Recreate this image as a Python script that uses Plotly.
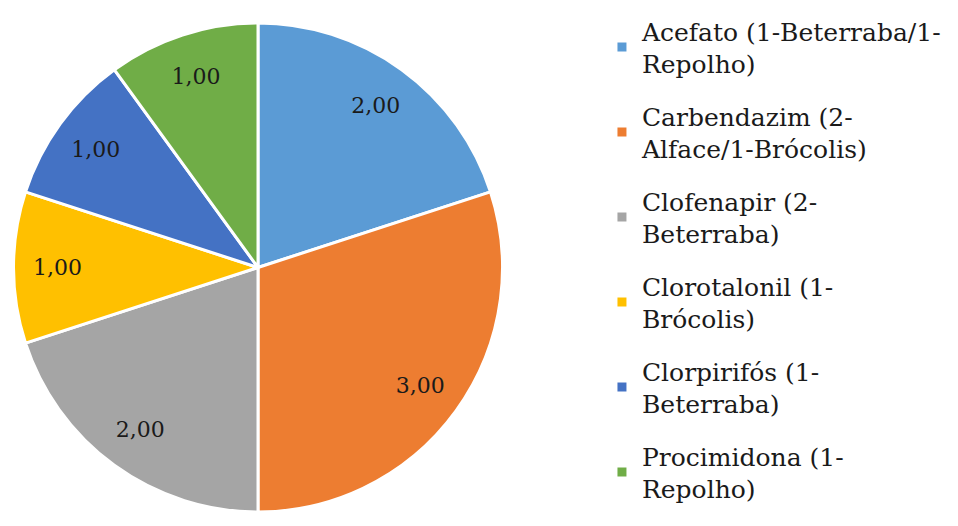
import plotly.graph_objects as go

# Data
labels = [
    "Acefato (1-Beterraba/1-<br>Repolho)",
    "Carbendazim (2-<br>Alface/1-Brócolis)",
    "Clofenapir (2-<br>Beterraba)",
    "Clorotalonil (1-<br>Brócolis)",
    "Clorpirifós (1-<br>Beterraba)",
    "Procimidona (1-<br>Repolho)",
]
values = [2, 3, 2, 1, 1, 1]
colors = ["#5B9BD5", "#ED7D31", "#A5A5A5", "#FFC000", "#4472C4", "#70AD47"]

W, H = 958, 526
SERIF = "DejaVu Serif"
DOMAIN = dict(x=[3 / W, 497 / W], y=[22 / H, 511 / H])

fig = go.Figure()

# the slices themselves
fig.add_trace(go.Pie(
    labels=labels, values=values, sort=False,
    direction="clockwise", rotation=0,
    marker=dict(colors=colors, line=dict(color="white", width=3)),
    textinfo="none", showlegend=False,
    domain=DOMAIN, hoverinfo="label+value",
))

# transparent ring on top, only to push the value labels outward like Excel does
fig.add_trace(go.Pie(
    labels=labels, values=values, sort=False,
    direction="clockwise", rotation=0, hole=0.64,
    marker=dict(colors=["rgba(0,0,0,0)"] * len(values), line=dict(width=0)),
    texttemplate="%{value:.2f}",
    textposition="inside", insidetextorientation="horizontal",
    textfont=dict(family=SERIF, size=22, color="#1a1a1a"),
    showlegend=False, domain=DOMAIN, hoverinfo="skip",
))

# legend entries (one group each so the gap between them can be set)
for lab, col in zip(labels, colors):
    fig.add_trace(go.Scatter(
        x=[None], y=[None], mode="markers", name=lab, legendgroup=lab,
        marker=dict(symbol="square", size=9, color=col),
    ))

fig.update_layout(
    width=W, height=H,
    separators=",.",
    margin=dict(l=0, r=0, t=0, b=0),
    paper_bgcolor="white",
    plot_bgcolor="white",
    xaxis=dict(visible=False),
    yaxis=dict(visible=False),
    showlegend=True,
    legend=dict(
        x=0.62, y=1.0, xanchor="left", yanchor="top",
        font=dict(family=SERIF, size=25, color="#1a1a1a"),
        bgcolor="rgba(0,0,0,0)",
        tracegroupgap=17,
        itemclick=False,
    ),
)

fig.write_html("out.html")
